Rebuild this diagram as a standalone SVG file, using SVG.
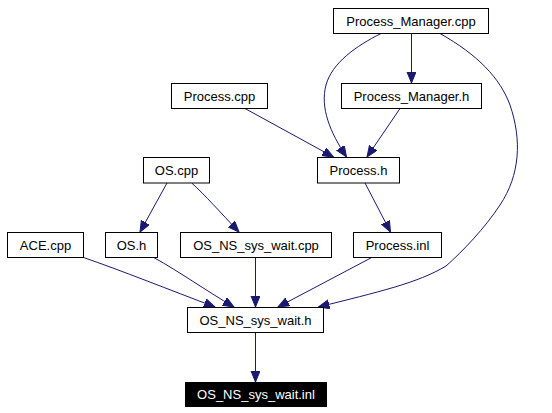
<svg xmlns="http://www.w3.org/2000/svg" width="552" height="413" viewBox="0 0 552 413">
<style>
.n rect{fill:#fff;stroke:#000;stroke-width:1}
.n text{font-family:"Liberation Sans",Arial,sans-serif;font-size:13px;text-anchor:middle;fill:#000}
.n.cur rect{fill:#000}
.n.cur text{fill:#fff}
.e path{fill:none;stroke:#191970;stroke-width:1;marker-end:url(#ah)}
</style>
<defs>
<marker id="ah" markerUnits="userSpaceOnUse" markerWidth="12" markerHeight="10" refX="11" refY="4.5" orient="auto">
<path d="M0,0 L11,4.5 L0,9 z" fill="#191970" stroke="#191970" stroke-width="1"/>
</marker>
</defs>
<rect width="552" height="413" fill="#fff"/>
<g id="edges" class="e">
<path d="M411.5,33.5 L411.5,83"/>
<path d="M381,33.5 C356,46 332,63 326,85 C320,108 330,132 346.5,157"/>
<path d="M440,33.5 C478,55 500,78 510,105 C522,140 520,175 500,205 C485,228 462,252 446,266 C418,283 378,292 318.5,307"/>
<path d="M245,108.5 L333.5,157"/>
<path d="M400,108.5 L367,157"/>
<path d="M167,183 L140,232"/>
<path d="M191.7,183 C205,195 220,212 239,232"/>
<path d="M365,183 L390.5,232"/>
<path d="M83.5,257.5 C120,270 170,290 215,307"/>
<path d="M153.7,257.5 C180,272 205,290 234,307"/>
<path d="M255.5,257.5 L255.5,307"/>
<path d="M371.7,257.5 L278,307"/>
<path d="M255.5,332.5 L255.5,382"/>
</g>
<g id="Process_Manager_cpp" class="n"><rect x="333.5" y="8.5" width="155" height="25"/><text x="411" y="25.5">Process_Manager.cpp</text></g>
<g id="Process_Manager_h" class="n"><rect x="341.5" y="83.5" width="140" height="25"/><text x="411.5" y="100.5">Process_Manager.h</text></g>
<g id="Process_cpp" class="n"><rect x="171.5" y="83.5" width="96" height="25"/><text x="219.5" y="100.5">Process.cpp</text></g>
<g id="Process_h" class="n"><rect x="317.5" y="157.5" width="82" height="25.5"/><text x="358.5" y="175">Process.h</text></g>
<g id="OS_cpp" class="n"><rect x="143.5" y="157.5" width="66" height="25.5"/><text x="176.5" y="175">OS.cpp</text></g>
<g id="ACE_cpp" class="n"><rect x="7.5" y="232.5" width="76" height="25"/><text x="45.5" y="249.5">ACE.cpp</text></g>
<g id="OS_h" class="n"><rect x="105.5" y="232.5" width="52" height="25"/><text x="131.5" y="249.5">OS.h</text></g>
<g id="OS_NS_sys_wait_cpp" class="n"><rect x="180.5" y="232.5" width="151" height="25"/><text x="256" y="249.5">OS_NS_sys_wait.cpp</text></g>
<g id="Process_inl" class="n"><rect x="353.5" y="232.5" width="88" height="25"/><text x="397.5" y="249.5">Process.inl</text></g>
<g id="OS_NS_sys_wait_h" class="n"><rect x="187.5" y="307.5" width="136" height="25"/><text x="255.5" y="324.5">OS_NS_sys_wait.h</text></g>
<g id="OS_NS_sys_wait_inl" class="n cur"><rect x="185.5" y="382.5" width="141" height="24"/><text x="256" y="399">OS_NS_sys_wait.inl</text></g>
</svg>
